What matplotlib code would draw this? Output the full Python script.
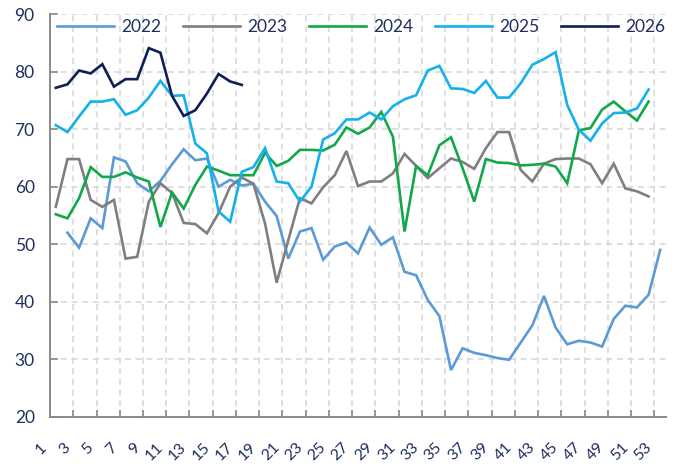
import numpy as np
import matplotlib
matplotlib.use("Agg")
import matplotlib.pyplot as plt
import matplotlib.transforms as mtransforms

plt.rcParams["font.family"] = ["Lato", "DejaVu Sans"]

nan = np.nan

weeks = np.arange(1, 54)
week_labels = [str(w) for w in range(1, 54, 2)]

y2022 = [nan, 52.0, 49.4, 54.5, 52.8, 65.1, 64.4, 60.6, 59.2, 61.0,
         63.9, 66.5, 64.6, 64.9, 60.0, 61.2, 60.2, 60.5, 57.4, 54.9,
         47.5, 52.2, 52.8, 47.3, 49.6, 50.3, 48.4, 52.9, 49.9, 51.2,
         45.2, 44.6, 40.3, 37.5, 28.1, 31.9, 31.1, 30.7, 30.2, 29.9,
         32.9, 35.9, 41.0, 35.5, 32.6, 33.2, 32.9, 32.2, 37.0, 39.3,
         39.0, 41.2, 49.0]
y2023 = [56.5, 64.8, 64.8, 57.7, 56.5, 57.7, 47.5, 47.8, 57.4, 60.6,
         58.9, 53.7, 53.5, 51.9, 55.4, 60.0, 61.6, 60.5, 53.6, 43.3,
         50.7, 58.0, 57.1, 59.9, 62.0, 66.2, 60.1, 60.9, 60.9, 62.3,
         65.7, 63.6, 61.5, 63.2, 64.9, 64.3, 63.1, 66.7, 69.5, 69.5,
         62.9, 60.9, 64.0, 64.8, 64.9, 64.9, 63.9, 60.6, 64.0, 59.7,
         59.2, 58.3, nan]
y2024 = [55.2, 54.5, 58.0, 63.4, 61.7, 61.7, 62.5, 61.6, 60.9, 53.0,
         59.0, 56.2, 60.3, 63.5, 62.8, 62.0, 62.0, 62.0, 65.9, 63.6,
         64.5, 66.4, 66.4, 66.3, 67.3, 70.3, 69.2, 70.3, 73.0, 68.7,
         52.2, 63.6, 62.0, 67.2, 68.6, 63.2, 57.4, 64.8, 64.2, 64.1,
         63.7, 63.8, 64.0, 63.5, 60.6, 69.8, 70.2, 73.4, 74.8, 73.1,
         71.5, 74.8, nan]
y2025 = [70.7, 69.5, 72.2, 74.8, 74.8, 75.2, 72.5, 73.3, 75.5, 78.4,
         75.8, 75.9, 67.5, 65.8, 55.7, 53.9, 62.6, 63.4, 66.7, 60.9,
         60.6, 57.4, 60.0, 68.2, 69.3, 71.7, 71.7, 72.9, 71.7, 74.0,
         75.2, 75.9, 80.2, 81.0, 77.1, 77.0, 76.3, 78.4, 75.5, 75.5,
         78.0, 81.2, 82.2, 83.4, 74.2, 69.9, 68.0, 71.0, 72.8, 72.9,
         73.6, 76.9, nan]
y2026 = [77.2, 77.8, 80.2, 79.7, 81.3, 77.4, 78.7, 78.7, 84.1, 83.3,
         75.8, 72.3, 73.3, 76.2, 79.6, 78.3, 77.7]

series = {
    "2022": (y2022, "#5b9bd5"),
    "2023": (y2023, "#7f7f7f"),
    "2024": (y2024, "#12a84a"),
    "2025": (y2025, "#14b1ec"),
    "2026": (y2026, "#0e1f55"),
}

NAVY = "#1f2f5f"
GRID = "#d6d6d6"
AXIS = "#8a8a8a"

fig = plt.figure(figsize=(6.75, 4.68), dpi=100)
ax = fig.add_axes([0.0741, 0.1096, 0.9126, 0.8601])

for name, (values, colour) in series.items():
    ax.plot(weeks[:len(values)], values, color=colour, lw=1.9,
            label=name, solid_joinstyle="miter")

ax.set_xlim(0.5, 53.5)
ax.set_ylim(20, 90)
ax.set_yticks(np.arange(20, 91, 10))

# Category boundaries every second week carry the marks and gridlines,
# the labels sit on the odd weeks between them.
ax.set_xticks(np.arange(2.5, 53, 2))
ax.set_xticklabels([])
ax.set_xticks(np.arange(1, 54, 2), minor=True)
ax.set_xticklabels(week_labels, minor=True, rotation=45, ha="right",
                   va="center", rotation_mode="anchor")
ax.tick_params(axis="x", which="major", direction="in", length=5,
               width=1.2, color=AXIS)
ax.tick_params(axis="x", which="minor", length=0, pad=20.5,
               labelsize=11.5, labelcolor=NAVY)
ax.tick_params(axis="y", direction="in", length=6, width=1.2, color=AXIS,
               pad=11, labelsize=12.5, labelcolor=NAVY)

shift = mtransforms.ScaledTranslation(-11 / 100, 0, fig.dpi_scale_trans)
for label in ax.get_xticklabels(minor=True):
    label.set_transform(label.get_transform() + shift)

ax.grid(True, which="major", color=GRID, linestyle=(0, (4, 3)), lw=1.1)
ax.set_axisbelow(True)

for side in ("top", "right"):
    ax.spines[side].set_visible(False)
for side in ("left", "bottom"):
    ax.spines[side].set_color(AXIS)
    ax.spines[side].set_linewidth(1.4)

leg = ax.legend(loc="upper center", bbox_to_anchor=(0.505, 1.005), ncol=5,
                frameon=False, fontsize=12.5, handlelength=3.3,
                handletextpad=0.4, columnspacing=1.25, borderaxespad=0.0)
for text in leg.get_texts():
    text.set_color(NAVY)

fig.savefig("out.png", dpi=100)
